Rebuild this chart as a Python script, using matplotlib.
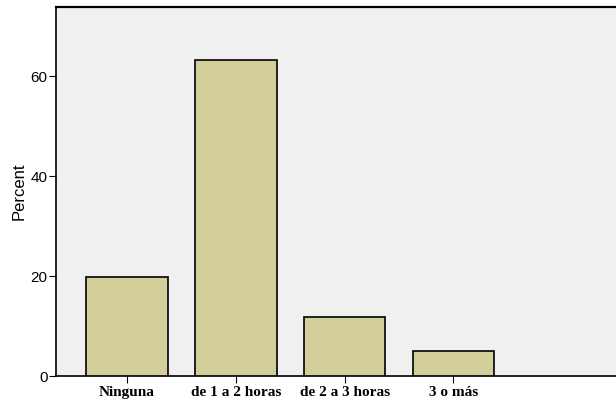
import matplotlib
matplotlib.use("Agg")
import matplotlib.pyplot as plt

categories = ["Ninguna", "de 1 a 2 horas", "de 2 a 3 horas", "3 o más"]
percent = [19.8, 63.3, 11.9, 5.0]
yticks = [0, 20, 40, 60]

fig = plt.figure(figsize=(6.16, 4.08), dpi=100)
ax = fig.add_axes([56 / 616, 32 / 408, 1 - 56 / 616 + 0.01, 369 / 408])
ax.set_facecolor("#f0f0f0")

x = list(range(len(categories)))
ax.bar(x, percent, width=0.75, color="#d3cf9a", edgecolor="black", linewidth=1.2, zorder=3)

ax.set_xlim(-0.651, 4.55)
ax.set_ylim(0, 73.8)
ax.set_yticks(yticks)
ax.set_yticklabels([str(v) for v in yticks], fontfamily="Liberation Sans", fontsize=11)
ax.set_xticks(x)
ax.set_xticklabels(categories, fontfamily="Liberation Serif", fontweight="bold", fontsize=11)
ax.set_ylabel("Percent", fontfamily="Liberation Sans", fontsize=12, labelpad=3)

ax.tick_params(axis="y", direction="out", length=5, width=0.8, pad=1)
ax.tick_params(axis="x", direction="out", length=5, width=0.8, pad=2)

for side in ("left", "bottom", "top"):
    ax.spines[side].set_color("black")
ax.spines["left"].set_linewidth(1.2)
ax.spines["bottom"].set_linewidth(1.2)
ax.spines["top"].set_linewidth(1.6)
ax.spines["right"].set_visible(False)

fig.savefig("out.png", dpi=100, facecolor="white")
